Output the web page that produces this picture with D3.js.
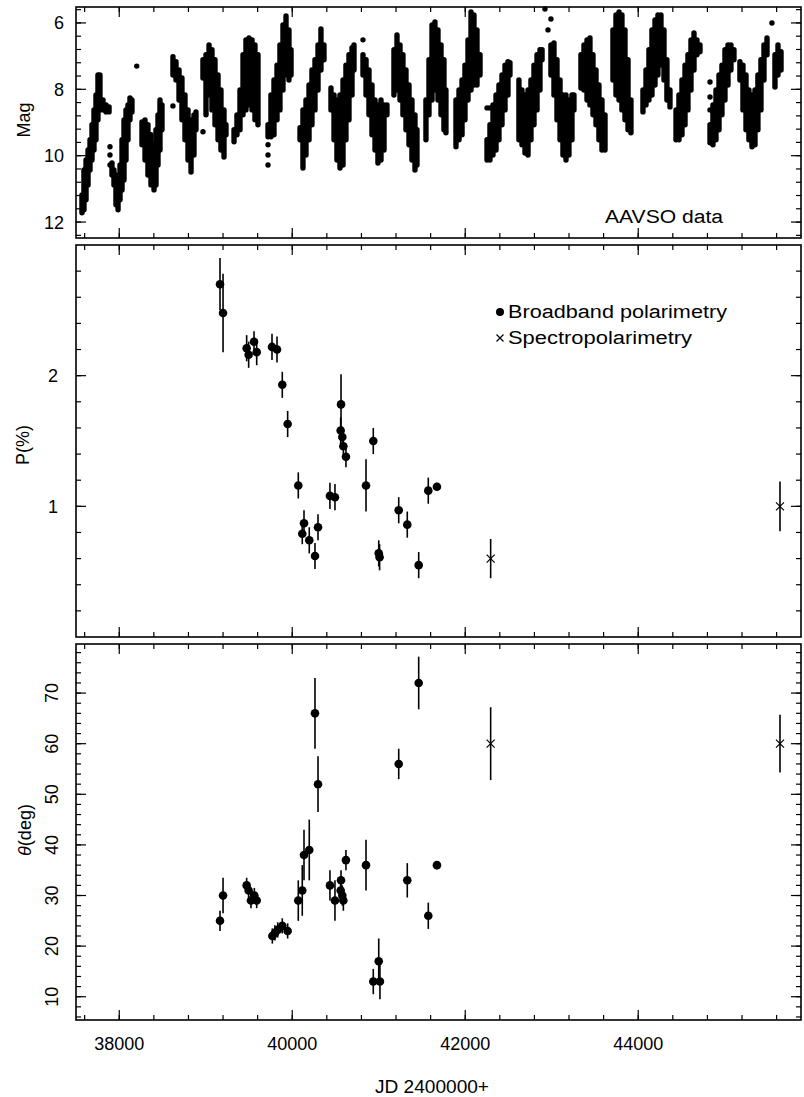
<!DOCTYPE html>
<html>
<head>
<meta charset="utf-8">
<script src="https://cdn.jsdelivr.net/npm/d3@7/dist/d3.min.js"></script>
<style>
  body { margin: 0; background: #fff; }
  text { font-family: "Liberation Sans", Arial, sans-serif; fill: #000; }
</style>
</head>
<body>
<div id="chart"></div>
<script>
// AAVSO light curve, read off the picture season by season:
// [JD-2400000, brightest mag, faintest mag] of the dot band at that date
const lcBands = [
  [37569,11.18,11.72],[37592,10.43,11.63],[37616,10.13,11.33],[37639,9.83,10.88],[37662,9.52,10.43],[37685,9.07,10.13],[37708,8.62,9.83],[37731,8.17,9.52],[37754,7.57,8.92],[37777,7.57,8.62],[37812,8.32,8.62],[37847,8.47,8.68],[37882,8.53,8.68],
  [37916,10.22,10.58],[37939,10.43,10.88],[37962,10.58,11.48],[37986,10.73,11.63],[38009,10.28,11.33],[38032,9.52,11.03],[38055,8.92,10.73],[38078,8.62,10.13],[38101,8.47,9.52],[38124,8.26,8.92],[38147,8.32,8.68],
  [38263,8.98,9.67],[38298,8.92,10.13],[38332,9.07,10.58],[38367,9.37,10.88],[38402,9.67,11.03],[38425,9.22,10.88],[38448,8.77,10.28],[38471,8.32,9.83],[38494,8.47,9.22],
  [38621,7.02,7.57],[38656,7.17,7.72],[38691,7.42,8.32],[38725,7.66,8.92],[38760,8.17,9.52],[38795,8.62,10.13],[38830,8.92,10.49],[38864,8.77,9.98],[38887,8.68,9.22],
  [38968,7.11,7.66],[39003,6.96,8.77],[39038,6.66,8.17],[39072,6.81,8.62],[39107,7.11,9.07],[39142,7.57,9.52],[39176,8.02,9.83],[39211,8.62,10.04],[39234,9.07,9.37],
  [39327,9.22,9.58],[39361,8.77,9.37],[39396,8.02,9.22],[39431,6.96,8.77],[39465,6.51,8.62],[39500,6.45,8.47],[39535,6.51,8.62],[39569,6.66,8.92],[39604,6.96,9.07],
  [39720,9.07,9.43],[39754,8.17,9.43],[39789,7.72,9.37],[39824,7.27,8.92],[39858,6.66,8.62],[39893,6.06,8.02],[39928,5.79,7.57],[39962,6.21,7.72],[39986,6.81,7.57],
  [40090,9.16,9.52],[40124,8.62,10.37],[40159,8.32,9.98],[40194,7.87,9.52],[40228,7.42,9.07],[40263,7.11,8.62],[40298,6.66,8.02],[40332,6.18,7.42],[40367,6.66,7.11],
  [40448,7.96,8.62],[40483,8.17,9.52],[40517,8.32,10.13],[40552,8.17,10.37],[40587,7.72,10.28],[40621,7.27,9.52],[40656,6.96,8.92],[40691,6.75,8.17],[40714,6.66,7.42],
  [40818,6.96,7.57],[40853,7.11,8.17],[40887,7.42,8.77],[40922,7.87,9.37],[40957,8.32,9.83],[40991,8.47,10.22],[41026,8.32,10.13],[41061,8.47,9.83],[41095,8.47,8.77],
  [41176,6.81,8.17],[41211,6.36,8.02],[41246,6.66,8.32],[41280,6.96,8.77],[41315,7.42,9.22],[41350,7.87,9.67],[41384,8.32,10.13],[41419,8.77,10.43],[41442,9.22,10.28],
  [41546,8.32,9.52],[41581,7.11,8.77],[41616,6.06,8.32],[41650,5.97,8.02],[41685,6.21,8.32],[41720,6.66,8.77],[41754,7.11,9.22],[41777,8.02,9.31],
  [41893,8.32,9.73],[41928,8.02,9.52],[41963,7.72,9.37],[41997,7.27,8.92],[42032,6.51,8.32],[42067,5.67,8.02],[42101,5.76,7.87],[42136,6.21,7.87],[42171,6.96,7.57],
  [42252,9.52,10.13],[42286,9.07,10.13],[42321,8.47,9.98],[42356,8.17,9.83],[42390,7.87,9.52],[42425,7.57,9.07],[42460,7.27,8.62],[42494,7.17,8.17],[42517,7.20,7.57],
  [42621,7.72,9.52],[42656,8.02,9.67],[42691,8.17,9.92],[42726,8.02,9.98],[42760,7.72,9.52],[42795,7.27,9.07],[42830,6.96,8.62],[42864,6.81,8.02],[42888,6.81,7.11],
  [42991,6.66,7.57],[43026,6.60,8.17],[43061,7.11,8.92],[43096,7.72,9.52],[43130,8.17,9.98],[43165,8.17,10.13],[43199,8.32,9.98],[43234,8.17,9.52],[43257,8.17,8.62],
  [43338,6.96,7.96],[43373,6.66,8.02],[43408,6.51,8.32],[43442,6.45,8.47],[43477,6.96,8.77],[43512,7.42,9.07],[43546,7.87,9.52],[43581,8.32,9.83],[43616,8.77,9.83],
  [43708,6.21,7.72],[43743,5.76,8.17],[43778,5.67,8.32],[43812,5.76,8.62],[43847,6.21,8.92],[43882,7.11,9.22],[43916,8.32,9.31],
  [44055,8.02,8.68],[44090,7.42,8.47],[44124,6.81,8.32],[44159,6.21,8.17],[44194,5.91,7.87],[44228,5.76,7.57],[44263,5.76,7.27],[44298,6.21,7.72],[44332,7.11,8.32],[44367,8.02,8.53],
  [44437,8.62,9.52],[44471,8.17,9.52],[44506,7.72,9.37],[44541,7.27,9.07],[44575,6.96,8.62],[44610,6.51,8.02],[44645,6.30,7.42],[44679,6.51,6.96],[44714,6.66,6.87],
  [44830,9.07,9.61],[44864,8.47,9.67],[44899,8.02,9.52],[44934,7.57,9.22],[44968,7.27,8.77],[45003,6.81,8.32],[45038,6.66,7.87],[45072,6.66,7.42],[45107,6.81,7.11],
  [45176,7.17,7.72],[45211,7.27,8.62],[45246,7.57,9.22],[45280,8.02,9.52],[45315,8.17,9.73],[45350,8.02,9.67],[45384,7.57,9.22],[45419,7.11,8.62],[45454,6.66,7.72],[45489,6.45,6.96],
  [45581,6.96,7.93],[45616,6.66,7.57],[45651,6.87,7.42]
];

// isolated AAVSO points [JD, mag]
const lcDots = [
  [37893,9.73],[37893,9.98],[37893,10.28],[38202,7.30],[38621,8.50],[38968,9.28],
  [39720,9.67],[39720,9.98],[39720,10.28],[40818,6.51],[42252,8.56],[42286,8.56],
  [42922,5.58],[42957,6.21],[42991,5.88],[44830,7.78],[44830,8.23],[44830,8.62],[45546,6.00]
];

// broadband polarimetry [JD, P(%), error]
const bbP = [
  [39165,2.70,0.20],[39200,2.48,0.30],[39473,2.21,0.10],[39496,2.16,0.10],[39558,2.26,0.08],[39589,2.18,0.10],
  [39766,2.22,0.10],[39824,2.20,0.10],[39885,1.93,0.10],[39947,1.63,0.10],[40070,1.16,0.10],[40116,0.79,0.08],
  [40136,0.87,0.10],[40197,0.74,0.10],[40263,0.62,0.10],[40298,0.84,0.10],[40436,1.08,0.10],[40494,1.07,0.10],
  [40560,1.58,0.10],[40564,1.78,0.23],[40579,1.53,0.08],[40591,1.46,0.08],[40621,1.38,0.08],[40853,1.16,0.20],
  [40937,1.50,0.10],[41000,0.64,0.10],[41010,0.61,0.10],[41231,0.97,0.10],[41330,0.86,0.10],[41462,0.55,0.10],
  [41573,1.12,0.10],[41673,1.15,0.03]
];

// broadband polarimetry [JD, theta(deg), error]
const bbTheta = [
  [39165,25,2],[39200,30,3.5],[39473,32,1.5],[39496,31,1.5],[39523,29,1.5],[39562,30,1.5],[39589,29,1.5],
  [39770,22,1.5],[39800,22.6,1.5],[39832,23.2,1.5],[39885,24,1.5],[39947,23,1.5],[40070,29,4],[40116,31,5],
  [40136,38,5],[40197,39,6],[40263,66,7],[40298,52,5.5],[40436,32,3],[40494,29,4],[40560,31,2],[40564,33,2],
  [40579,30,2],[40591,29,2],[40621,37,2],[40853,36,5],[40937,13,2.5],[41000,17,4.5],[41014,13,3.5],
  [41231,56,3],[41330,33,3.4],[41462,72,5.2],[41573,26,2.6],[41673,36,0.8]
];

// spectropolarimetry
const spP = [[42294,0.60,0.15],[45639,1.00,0.19]];
const spTheta = [[42294,60,7.2],[45639,60,5.7]];

// tick labels
const xTickLabels = [38000, 40000, 42000, 44000];
const magTickLabels = [6, 8, 10, 12];
const pTickLabels = [1, 2];
const thetaTickLabels = [10, 20, 30, 40, 50, 60, 70];

const W = 804, H = 1097;
const left = 76, right = 801;

const svg = d3.select('#chart').append('svg')
  .attr('width', W)
  .attr('height', H);

const x = d3.scaleLinear().domain([37500, 45882]).range([left, right]);

// three stacked panels sharing the x scale
const panels = [
  {name: 'mag', top: 7, bottom: 238, y: d3.scaleLinear().domain([5.52, 12.48]).range([7, 238]),
   major: [6, 8, 10, 12], minor: d3.range(5.6, 12.41, 0.4)},
  {name: 'p', top: 245, bottom: 637, y: d3.scaleLinear().domain([0, 3]).range([637, 245]),
   major: [1, 2], minor: d3.range(0.2, 2.81, 0.2)},
  {name: 'theta', top: 644, bottom: 1020, y: d3.scaleLinear().domain([5.4, 79.7]).range([1020, 644]),
   major: [10, 20, 30, 40, 50, 60, 70], minor: d3.range(6, 79, 2)}
];

const xMajor = [38000, 40000, 42000, 44000];
const xMinor = d3.range(37600, 45801, 400);

panels.forEach(p => {
  const g = svg.append('g').attr('class', 'panel-' + p.name);
  const ticks = g.append('g').attr('stroke', '#000').attr('stroke-width', 1.2);

  // inward ticks on all four sides
  const addTicks = (vals, len, horiz) => {
    vals.forEach(v => {
      if (horiz) {
        const xx = x(v);
        ticks.append('line').attr('x1', xx).attr('x2', xx).attr('y1', p.top).attr('y2', p.top + len);
        ticks.append('line').attr('x1', xx).attr('x2', xx).attr('y1', p.bottom).attr('y2', p.bottom - len);
      } else {
        const yy = p.y(v);
        ticks.append('line').attr('y1', yy).attr('y2', yy).attr('x1', left).attr('x2', left + len);
        ticks.append('line').attr('y1', yy).attr('y2', yy).attr('x1', right).attr('x2', right - len);
      }
    });
  };
  addTicks(xMinor, 5, true);
  addTicks(xMajor, 10, true);
  addTicks(p.minor, 5, false);
  addTicks(p.major, 10, false);

  g.append('rect')
    .attr('x', left).attr('y', p.top)
    .attr('width', right - left).attr('height', p.bottom - p.top)
    .attr('fill', 'none').attr('stroke', '#000').attr('stroke-width', 1.6);

  p.g = g;
});

const [pm, pp, pt] = panels;

// ---- light curve
pm.g.append('g').selectAll('line')
  .data(lcBands)
  .join('line')
  .attr('x1', d => x(d[0])).attr('x2', d => x(d[0]))
  .attr('y1', d => pm.y(d[1])).attr('y2', d => pm.y(d[2]))
  .attr('stroke', '#000').attr('stroke-width', 5.4).attr('stroke-linecap', 'round');

pm.g.append('g').selectAll('circle')
  .data(lcDots)
  .join('circle')
  .attr('cx', d => x(d[0])).attr('cy', d => pm.y(d[1]))
  .attr('r', 2.7).attr('fill', '#000');

pm.g.selectAll('.ytick')
  .data(magTickLabels)
  .join('text')
  .attr('class', 'ytick')
  .attr('x', 64).attr('y', d => pm.y(d))
  .attr('dy', '0.36em').attr('text-anchor', 'end')
  .attr('font-size', 18)
  .text(d => d);

svg.append('text')
  .attr('transform', 'translate(30,120) rotate(-90)')
  .attr('text-anchor', 'middle').attr('font-size', 18)
  .text('Mag');

svg.append('text')
  .attr('x', 605).attr('y', 223)
  .attr('font-size', 18)
  .attr('textLength', 118).attr('lengthAdjust', 'spacingAndGlyphs')
  .text('AAVSO data');

// ---- polarimetry panels
function drawPol(panel, bb, sp) {
  const gb = panel.g.append('g');
  gb.selectAll('.err')
    .data(bb.concat(sp))
    .join('line')
    .attr('class', 'err')
    .attr('x1', d => x(d[0])).attr('x2', d => x(d[0]))
    .attr('y1', d => panel.y(d[1] - d[2])).attr('y2', d => panel.y(d[1] + d[2]))
    .attr('stroke', '#000').attr('stroke-width', 1.6);

  gb.selectAll('.bb')
    .data(bb)
    .join('circle')
    .attr('class', 'bb')
    .attr('cx', d => x(d[0])).attr('cy', d => panel.y(d[1]))
    .attr('r', 4.3).attr('fill', '#000');

  const s = 4;
  gb.selectAll('.sp')
    .data(sp)
    .join('path')
    .attr('class', 'sp')
    .attr('d', d => {
      const cx = x(d[0]), cy = panel.y(d[1]);
      return `M${cx - s},${cy - s}L${cx + s},${cy + s}M${cx - s},${cy + s}L${cx + s},${cy - s}`;
    })
    .attr('stroke', '#000').attr('stroke-width', 1.2).attr('fill', 'none');
}
drawPol(pp, bbP, spP);
drawPol(pt, bbTheta, spTheta);

pp.g.selectAll('.ytick')
  .data(pTickLabels)
  .join('text')
  .attr('class', 'ytick')
  .attr('x', 58).attr('y', d => pp.y(d))
  .attr('dy', '0.36em').attr('text-anchor', 'end')
  .attr('font-size', 18)
  .text(d => d);

svg.append('text')
  .attr('transform', 'translate(29,445) rotate(-90)')
  .attr('text-anchor', 'middle').attr('font-size', 18)
  .text('P(%)');

pt.g.selectAll('.ytick')
  .data(thetaTickLabels)
  .join('text')
  .attr('class', 'ytick')
  .attr('transform', d => `translate(58,${pt.y(d)}) rotate(-90)`)
  .attr('text-anchor', 'middle')
  .attr('font-size', 18)
  .text(d => d);

const thLabel = svg.append('text')
  .attr('transform', 'translate(31,830) rotate(-90)')
  .attr('text-anchor', 'middle').attr('font-size', 18);
thLabel.append('tspan').attr('font-style', 'italic').text('θ');
thLabel.append('tspan').text('(deg)');

// legend
const leg = svg.append('g');
leg.append('circle').attr('cx', 500).attr('cy', 312).attr('r', 4).attr('fill', '#000');
leg.append('text').attr('x', 508).attr('y', 318).attr('font-size', 18)
  .attr('textLength', 219).attr('lengthAdjust', 'spacingAndGlyphs')
  .text('Broadband  polarimetry');
leg.append('path')
  .attr('d', 'M496.5,334.5L503.5,341.5M496.5,341.5L503.5,334.5')
  .attr('stroke', '#000').attr('stroke-width', 1.2);
leg.append('text').attr('x', 508).attr('y', 344).attr('font-size', 18)
  .attr('textLength', 184).attr('lengthAdjust', 'spacingAndGlyphs')
  .text('Spectropolarimetry');

// x axis labels (bottom only)
svg.selectAll('.xtick')
  .data(xTickLabels)
  .join('text')
  .attr('class', 'xtick')
  .attr('x', d => x(d)).attr('y', 1050)
  .attr('text-anchor', 'middle').attr('font-size', 18)
  .text(d => d);

svg.append('text')
  .attr('x', 432).attr('y', 1093)
  .attr('text-anchor', 'middle').attr('font-size', 18)
  .attr('textLength', 114).attr('lengthAdjust', 'spacingAndGlyphs')
  .text('JD 2400000+');
</script>
</body>
</html>
